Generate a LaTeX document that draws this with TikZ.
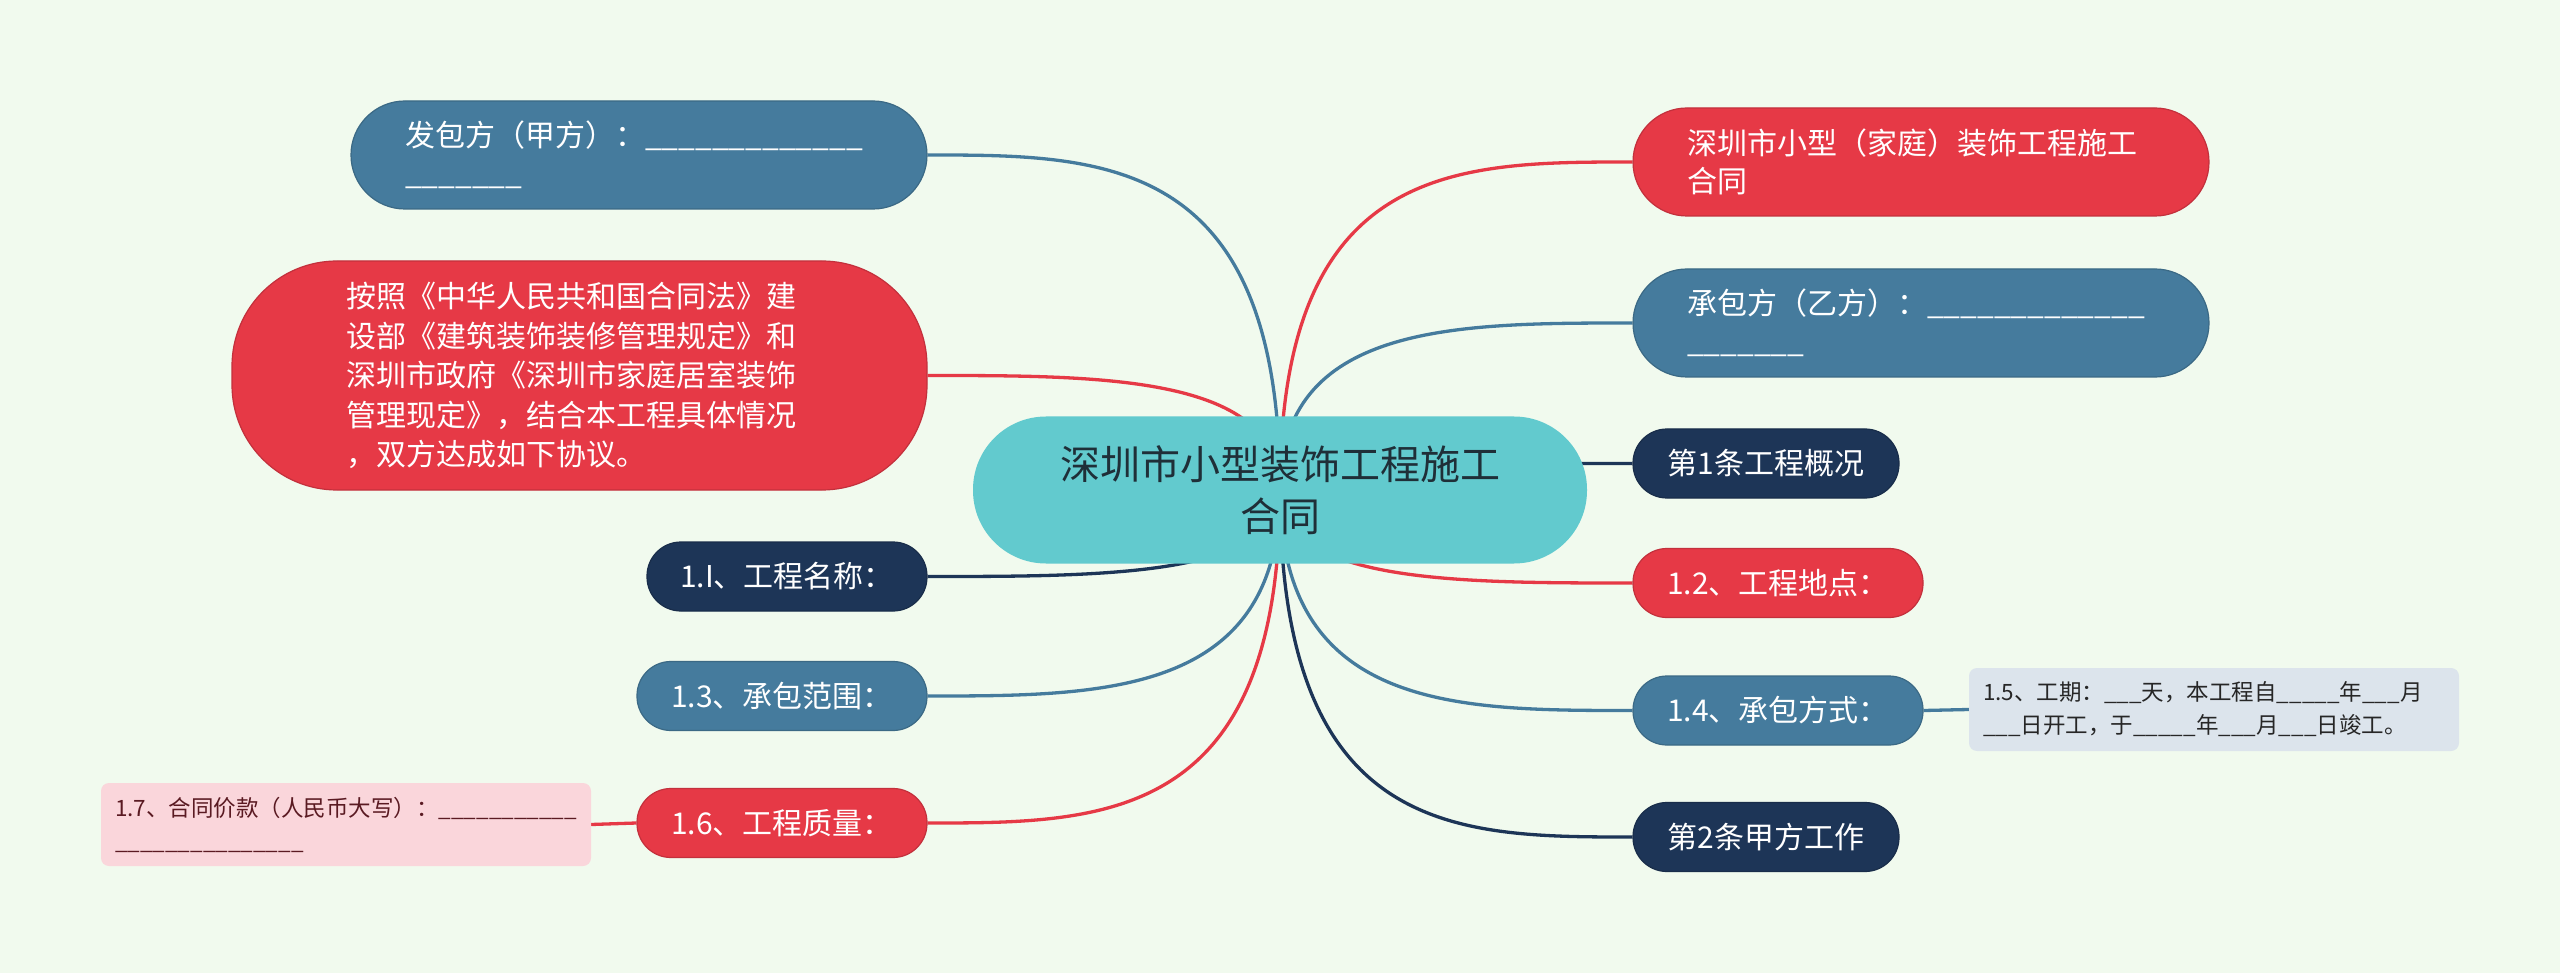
\documentclass[tikz,border=0pt]{standalone}
\usepackage{fontspec}
\setmainfont{Noto Sans CJK SC}
\usepackage{xcolor}
\usepackage{tikz}
\usetikzlibrary{calc,backgrounds,positioning}
\definecolor{bgmint}{HTML}{F1FAEE}
\definecolor{mapred}{HTML}{E63946}
\definecolor{mapblue}{HTML}{457B9D}
\definecolor{mapnavy}{HTML}{1D3557}
\definecolor{maproot}{HTML}{62CACE}
\definecolor{rootink}{HTML}{1F2F38}
\definecolor{notegray}{HTML}{DCE4EC}
\definecolor{notepink}{HTML}{FAD6DB}
\definecolor{pinkink}{HTML}{5A1A22}
\newcommand{\blank}[1]{\foreach \k in {1,...,#1}{\_}}

\begin{document}
\begin{tikzpicture}[x=1pt,y=-1pt,
  redfill/.style={fill=mapred,draw=mapred!85!black},
  bluefill/.style={fill=mapblue,draw=mapblue!85!black},
  navyfill/.style={fill=mapnavy,draw=mapnavy!85!black},
  pill/.style={rounded corners=34pt,minimum height=69pt,inner sep=0pt,text=white,
    font=\fontsize{30}{40}\selectfont,line width=1.2pt},
  bigbox/.style={rounded corners=54pt,minimum height=108pt,inner xsep=54pt,inner ysep=0pt,
    text width=468pt,align=left,text=white,font=\fontsize{30}{38}\selectfont,line width=1.2pt},
  note/.style={rounded corners=8pt,minimum height=83pt,inner xsep=14pt,inner ysep=0pt,
    text width=462pt,align=left,font=\fontsize{22.5}{33}\selectfont},
  branch/.style={line width=3.3pt}]
\useasboundingbox (0,0) rectangle (2560,973);

% root
\node[fill=maproot,rounded corners=73pt,minimum width=614pt,minimum height=147pt,inner sep=0pt,
  align=center,text=rootink,font=\fontsize{40}{52}\selectfont] (root) at (1280,490)
  {深圳市小型装饰工程施工\\合同};

% left side
\node[bigbox,bluefill] (fabao) at (639,155) {发包方（甲方）：\blank{13}\\\blank{7}};
\node[bigbox,redfill,rounded corners=105pt,minimum height=229pt,inner xsep=114pt,text width=467pt,
  font=\fontsize{30}{39.5}\selectfont] (anzhao) at (579.5,375.5)
  {按照《中华人民共和国合同法》建\\设部《建筑装饰装修管理规定》和\\深圳市政府《深圳市家庭居室装饰\\管理现定》，结合本工程具体情况\\，双方达成如下协议。};
\node[pill,navyfill,minimum width=280pt] (gcmc) at (787,576.5) {1.I、工程名称：};
\node[pill,bluefill,minimum width=290pt] (cbfw) at (782,696) {1.3、承包范围：};
\node[pill,redfill,minimum width=290pt] (gczl) at (782,823) {1.6、工程质量：};
\node[note,fill=notepink,text=pinkink] (htjk) at (346,824.5)
  {1.7、合同价款（人民币大写）：\blank{11}\\\blank{15}};

% right side
\node[bigbox,redfill] (title) at (1921,162) {深圳市小型（家庭）装饰工程施工\\合同};
\node[bigbox,bluefill] (chengbao) at (1921,323) {承包方（乙方）：\blank{13}\\\blank{7}};
\node[pill,navyfill,minimum width=266pt] (tiao1) at (1766,463.5) {第1条工程概况};
\node[pill,redfill,minimum width=290pt] (gcdd) at (1778,583) {1.2、工程地点：};
\node[pill,bluefill,minimum width=290pt] (cbfs) at (1778,710.5) {1.4、承包方式：};
\node[note,fill=notegray,text=black!85] (gongqi) at (2214,709.5)
  {1.5、工期：\blank{3}天，本工程自\blank{5}年\blank{3}月\\\blank{3}日开工，于\blank{5}年\blank{3}月\blank{3}日竣工。};
\node[pill,navyfill,minimum width=266pt] (tiao2) at (1766,837) {第2条甲方工作};

\begin{scope}[on background layer]
\fill[bgmint] (0,0) rectangle (2560,973);
\foreach \kid/\side/\col in {fabao/east/mapblue,anzhao/east/mapred,gcmc/east/mapnavy,
  cbfw/east/mapblue,gczl/east/mapred,title/west/mapred,chengbao/west/mapblue,
  tiao1/west/mapnavy,gcdd/west/mapred,cbfs/west/mapblue,tiao2/west/mapnavy}{
  \draw[branch,\col] (root.center) .. controls (root.center |- \kid.\side)
    and ($(root.center |- \kid.\side)!0.5!(\kid.\side)$) .. (\kid.\side);
}
\draw[branch,mapblue] (cbfs.east) -- (gongqi.west);
\draw[branch,mapred] (gczl.west) -- (htjk.east);
\end{scope}
\end{tikzpicture}
\end{document}
